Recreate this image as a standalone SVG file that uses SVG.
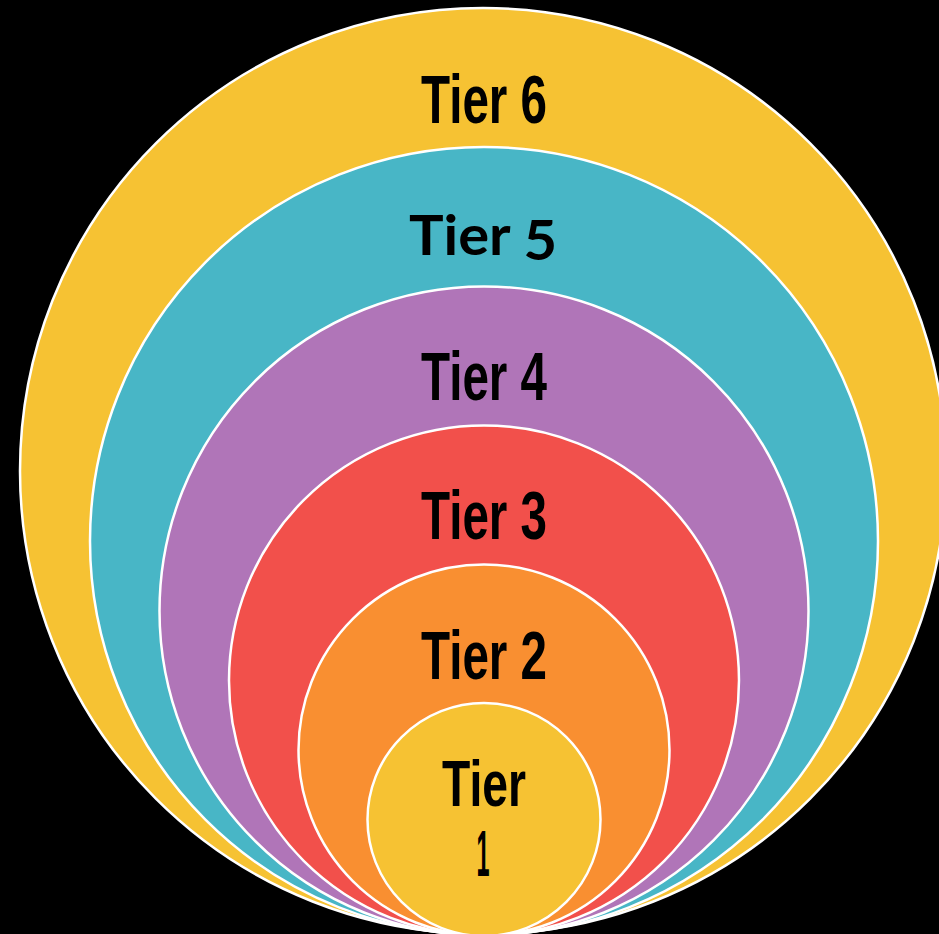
<svg xmlns="http://www.w3.org/2000/svg" width="939" height="934" viewBox="0 0 939 934">
  <style>
    .ring { stroke: #ffffff; stroke-width: 2.5; }
    .lbl { font-family: "Liberation Sans", Arial, sans-serif; font-weight: bold; font-size: 69px; fill: #000000; text-anchor: middle; }
    .lbl1 { font-family: "Liberation Sans", Arial, sans-serif; font-weight: bold; font-size: 64px; fill: #000000; text-anchor: middle; }
    .lbl5 { font-family: Lato, "Open Sans", sans-serif; font-weight: bold; font-size: 56px; fill: #000000; text-anchor: middle; }
  </style>
  <rect x="0" y="0" width="939" height="934" fill="#000000"/>
  <g id="tier6">
    <circle class="ring" cx="483" cy="471" r="463" fill="#F6C233"/>
    <text class="lbl" x="484" y="123" textLength="126" lengthAdjust="spacingAndGlyphs">Tier 6</text>
  </g>
  <g id="tier5">
    <circle class="ring" cx="484" cy="541" r="394" fill="#48B6C6"/>
    <text class="lbl5" x="483" y="255" textLength="148" lengthAdjust="spacingAndGlyphs">Tier <tspan dy="5">5</tspan></text>
  </g>
  <g id="tier4">
    <circle class="ring" cx="484" cy="611" r="324.5" fill="#B075B8"/>
    <text class="lbl" x="484" y="400" textLength="126" lengthAdjust="spacingAndGlyphs">Tier 4</text>
  </g>
  <g id="tier3">
    <circle class="ring" cx="484" cy="680.5" r="255" fill="#F2504B"/>
    <text class="lbl" x="484" y="539" textLength="126" lengthAdjust="spacingAndGlyphs">Tier 3</text>
  </g>
  <g id="tier2">
    <circle class="ring" cx="484" cy="750" r="185.5" fill="#F98F31"/>
    <text class="lbl" x="484" y="679" textLength="126" lengthAdjust="spacingAndGlyphs">Tier 2</text>
  </g>
  <g id="tier1">
    <circle class="ring" cx="484" cy="819.5" r="116.5" fill="#F6C233"/>
    <text class="lbl1" x="484" y="806" textLength="84" lengthAdjust="spacingAndGlyphs">Tier</text>
    <text class="lbl1" x="483" y="876" textLength="13" lengthAdjust="spacingAndGlyphs">1</text>
  </g>
</svg>
